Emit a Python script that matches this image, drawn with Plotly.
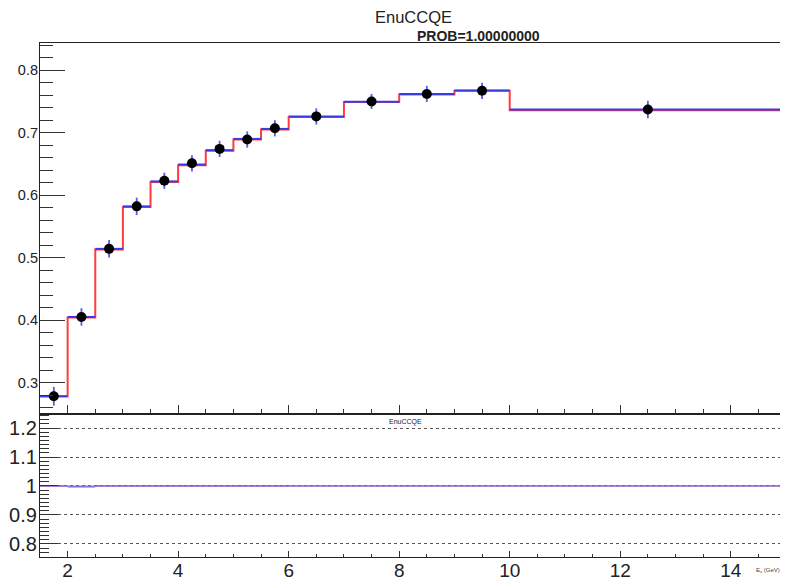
import plotly.graph_objects as go
from plotly.subplots import make_subplots

# bin edges (GeV) and contents
bin_edges = [1.5, 2.0, 2.5, 3.0, 3.5, 4.0, 4.5, 5.0, 5.5, 6.0, 7.0, 8.0, 9.0, 10.0, 15.0]
mc_red = [0.278, 0.404, 0.513, 0.581, 0.621, 0.648, 0.671, 0.689, 0.705, 0.725, 0.749, 0.761, 0.767, 0.736]
mc_blue = [0.278, 0.405, 0.514, 0.582, 0.622, 0.649, 0.672, 0.690, 0.706, 0.726, 0.7495, 0.762, 0.7675, 0.737]
data_y = [0.278, 0.405, 0.514, 0.582, 0.623, 0.651, 0.674, 0.689, 0.707, 0.726, 0.750, 0.762, 0.767, 0.737]
data_err = [0.015, 0.014, 0.014, 0.014, 0.013, 0.013, 0.013, 0.013, 0.013, 0.013, 0.012, 0.013, 0.013, 0.014]
ratio_red = [1.0, 1.0, 1.0, 1.0, 1.0, 1.0, 1.0, 1.0, 1.0, 1.0, 1.0, 1.0, 1.0, 1.0]
ratio_blue = [1.0, 0.997, 1.0, 1.0, 1.0, 1.0, 1.0, 1.0, 1.0, 1.0, 1.0, 1.0, 1.0, 1.0]

centers = [(a + b) / 2 for a, b in zip(bin_edges[:-1], bin_edges[1:])]


def step_xy(vals):
    return bin_edges, list(vals) + [vals[-1]]


def flat_xy(vals):
    xs, ys = [], []
    for lo, hi, v in zip(bin_edges[:-1], bin_edges[1:], vals):
        xs += [lo, hi, None]
        ys += [v, v, None]
    return xs, ys


fig = make_subplots(rows=2, cols=1, shared_xaxes=True, vertical_spacing=0)

# top panel
x, y = step_xy(mc_red)
fig.add_trace(go.Scatter(x=x, y=y, mode="lines", line=dict(color="#ff3b3b", width=2, shape="hv")), row=1, col=1)
x, y = flat_xy(mc_blue)
fig.add_trace(go.Scatter(x=x, y=y, mode="lines", line=dict(color="#3a3ae8", width=2)), row=1, col=1)
fig.add_trace(go.Scatter(
    x=centers, y=data_y, mode="markers",
    marker=dict(color="black", size=10),
    error_y=dict(type="data", array=data_err, color="#5a5aee", thickness=1.8, width=0),
), row=1, col=1)

# ratio panel
x, y = step_xy(ratio_red)
fig.add_trace(go.Scatter(x=x, y=y, mode="lines", line=dict(color="#ff6060", width=1, shape="hv")), row=2, col=1)
x, y = flat_xy(ratio_blue)
fig.add_trace(go.Scatter(x=x, y=y, mode="lines", line=dict(color="#5a5af0", width=1.2)), row=2, col=1)

axis_common = dict(
    showline=True, linecolor="#222", linewidth=1.2, mirror=True,
    ticks="inside", tickcolor="#333", zeroline=False, automargin=False,
    tickfont=dict(family="Liberation Sans, Arial", color="#222"),
)

fig.update_xaxes(range=[1.5, 15], dtick=2, tick0=0, showgrid=False, **axis_common)
fig.update_xaxes(row=1, col=1, showticklabels=False, ticklen=9,
                 minor=dict(dtick=0.5, ticklen=5, ticks="inside", tickcolor="#333"),
                 domain=[0, 1])
fig.update_xaxes(row=2, col=1, ticklen=6, tickfont_size=19, ticklabelstandoff=-4,
                 minor=dict(dtick=0.5, ticklen=3, ticks="inside", tickcolor="#333"))

fig.update_yaxes(row=1, col=1, range=[0.2495, 0.8435], dtick=0.1, tick0=0, ticklen=25,
                 showgrid=False, tickfont_size=14.5, domain=[0.278, 1], ticklabelstandoff=-2,
                 minor=dict(dtick=0.02, ticklen=13, ticks="inside", tickcolor="#333"),
                 **axis_common)
fig.update_yaxes(row=2, col=1, range=[0.755, 1.248], dtick=0.1, tick0=0.8, ticklen=18,
                 showgrid=True, gridcolor="#555", griddash="dot", gridwidth=1,
                 tickfont_size=20, domain=[0, 0.278], ticklabelstandoff=-2,
                 minor=dict(tick0=0.8, dtick=0.1 / 7, ticklen=9, ticks="inside", tickcolor="#333"),
                 **axis_common)

fig.add_annotation(text="EnuCCQE", x=0.5, y=1, xref="paper", yref="paper",
                   xanchor="center", yanchor="bottom", yshift=15, showarrow=False,
                   font=dict(family="Liberation Sans, Arial", size=16.5, color="#222"))
fig.add_annotation(text="<b>PROB=1.00000000</b>", x=0.588, y=1, xref="paper", yref="paper",
                   xanchor="center", yanchor="bottom", yshift=-3, showarrow=False,
                   font=dict(family="Liberation Sans, Arial", size=14, color="#222"))
fig.add_annotation(text="EnuCCQE", x=0.49, y=0.278, xref="paper", yref="paper",
                   xanchor="center", yanchor="top", yshift=-2, showarrow=False,
                   font=dict(family="Liberation Sans, Arial", size=7, color="#222"))
fig.add_annotation(text="E<sub>ν</sub> (GeV)", x=1, y=0, xref="paper", yref="paper",
                   xanchor="right", yanchor="top", yshift=-8, xshift=-4, showarrow=False,
                   font=dict(family="Liberation Sans, Arial", size=6, color="#444"))

# page body has an 8px margin, so the figure is sized to fit inside the window
fig.update_layout(
    width=780, height=571,
    margin=dict(l=32, r=2, t=35, b=22, autoexpand=False),
    paper_bgcolor="white", plot_bgcolor="white",
    showlegend=False,
)

fig.write_html("out.html")
